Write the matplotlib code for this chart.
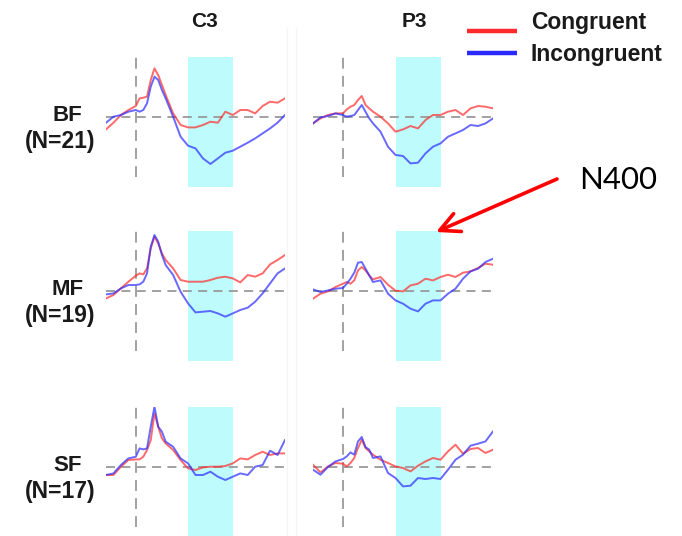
import matplotlib
matplotlib.use("Agg")
import matplotlib.pyplot as plt

# ---------------- data ----------------
time_ms = [-200, -150, -100, -50, 0, 25, 50, 75, 100, 125, 150, 175, 200, 250, 300,
           350, 400, 450, 500, 550, 600, 650, 700, 750, 800, 850, 900, 950, 1000]

electrodes = ["C3", "P3"]
groups = ["BF", "MF", "SF"]
group_n = ["(N=21)", "(N=19)", "(N=17)"]
conditions = ["Congruent", "Incongruent"]
n400_window = [350, 650]

c3_bf_congruent = [-1.27, -0.6, 0.17, 0.67, 1.07, 1.83, 1.9, 2.0, 3.67, 4.83, 4.17, 3.17, 2.17, 0.33, -0.83,
                   -1.07, -1.07, -0.83, -0.5, -0.6, 0.5, 0.17, 0.67, 0.67, 0.33, 1.07, 1.5, 1.4, 1.83]
c3_bf_incongruent = [-0.6, 0.0, 0.17, 0.5, 0.67, 0.5, 0.67, 1.33, 3.0, 4.0, 3.67, 2.67, 1.83, 0.0, -2.0,
                     -2.9, -3.17, -4.17, -4.73, -4.17, -3.6, -3.4, -3.0, -2.6, -2.17, -1.67, -1.17, -0.6, 0.17]
p3_bf_congruent = [-0.67, -0.17, 0.17, 0.33, 0.33, 0.73, 1.0, 1.17, 1.67, 2.07, 1.17, 0.83, 0.5, 0.0, -0.67,
                   -1.5, -1.27, -0.93, -1.17, -0.33, 0.17, 0.17, 0.5, 0.67, 0.17, 0.83, 1.07, 1.0, 0.83]
p3_bf_incongruent = [-0.67, -0.07, 0.07, 0.33, 0.17, 0.0, 0.07, 0.17, 0.67, 1.17, 0.5, -0.17, -0.67, -1.5, -3.0,
                     -3.83, -3.93, -4.67, -4.6, -3.67, -3.0, -2.67, -2.0, -1.67, -1.33, -0.83, -0.93, -0.67, -0.17]
c3_mf_congruent = [-0.77, -0.43, 0.23, 0.9, 1.5, 1.73, 1.63, 2.23, 4.23, 5.4, 4.73, 3.73, 3.07, 2.23, 1.07,
                   0.9, 0.9, 0.9, 1.07, 1.3, 1.4, 1.23, 0.83, 1.57, 1.4, 1.73, 2.63, 3.07, 3.57]
c3_mf_incongruent = [-0.37, -0.27, 0.23, 0.57, 0.57, 0.63, 0.9, 1.73, 4.4, 5.57, 4.9, 3.57, 2.57, 1.57, -0.1,
                     -1.27, -2.17, -2.1, -2.03, -2.27, -2.6, -2.27, -1.93, -1.7, -1.1, -0.27, 0.73, 1.73, 2.23]
p3_mf_congruent = [-0.8, -0.3, -0.07, 0.37, 0.7, 0.87, 0.7, 1.03, 2.03, 2.37, 2.03, 1.53, 1.13, 1.37, 0.6,
                   0.0, -0.07, 0.53, 0.7, 1.2, 1.03, 1.37, 1.6, 1.37, 1.8, 1.93, 2.27, 2.7, 2.6]
p3_mf_incongruent = [0.13, -0.13, 0.03, 0.2, 0.27, 0.7, 1.2, 1.8, 2.8, 2.87, 2.2, 1.53, 0.87, 1.03, -0.3,
                     -0.97, -1.3, -1.8, -2.07, -1.3, -0.97, -0.97, -0.3, 0.2, 1.2, 1.93, 2.2, 2.87, 3.2]
c3_sf_congruent = [-0.83, -0.83, 0.0, 0.67, 0.73, 0.73, 1.0, 1.67, 2.67, 5.33, 4.0, 2.83, 2.33, 1.67, 0.67,
                   -0.17, -0.33, -0.07, 0.0, 0.0, 0.07, 0.33, 0.83, 0.73, 1.17, 1.5, 1.17, 1.33, 1.33]
c3_sf_incongruent = [-0.83, -0.67, 0.17, 0.83, 1.0, 1.83, 1.73, 1.83, 4.0, 6.0, 4.0, 3.5, 2.5, 2.0, 0.83,
                     0.33, -0.83, -0.83, -0.5, -1.0, -1.33, -1.0, -0.67, -0.83, 0.0, 0.17, 1.6, 1.17, 2.67]
p3_sf_congruent = [0.2, -0.57, 0.03, 0.37, 0.3, 0.03, 0.37, 0.87, 1.87, 2.7, 1.87, 1.53, 1.2, 0.7, 0.37,
                   0.03, -0.13, -0.47, 0.1, 0.53, 0.87, 0.7, 1.53, 2.2, 1.3, 1.77, 1.87, 1.37, 1.7]
p3_sf_incongruent = [-0.3, -0.8, -0.03, 0.53, 0.77, 1.03, 1.43, 1.2, 2.53, 2.97, 1.97, 1.7, 0.87, 1.03, -0.63,
                     -1.13, -1.97, -1.9, -1.13, -1.23, -1.13, -1.23, -0.3, 0.7, 1.2, 2.1, 2.3, 2.53, 3.53]

waves = {
    ("BF", "C3"): (c3_bf_congruent, c3_bf_incongruent),
    ("BF", "P3"): (p3_bf_congruent, p3_bf_incongruent),
    ("MF", "C3"): (c3_mf_congruent, c3_mf_incongruent),
    ("MF", "P3"): (p3_mf_congruent, p3_mf_incongruent),
    ("SF", "C3"): (c3_sf_congruent, c3_sf_incongruent),
    ("SF", "P3"): (p3_sf_congruent, p3_sf_incongruent),
}

# ---------------- layout ----------------
W, H = 682, 536
fig = plt.figure(figsize=(W / 100, H / 100), dpi=100)
fig.patch.set_facecolor("white")

col_left = [106, 313]
col_width = [179, 180]
row_top = [56.7, 230.7, 406.7]
row_height = 130
YMIN, YMAX = -7, 6

RED = "#ff2a2a"
BLUE = "#2a2aff"
CYAN = "#bdfbfc"
GREY = "#9a9a9a"

label_font = ["Liberation Sans", "DejaVu Sans"]

def px_axes(left, top, width, height):
    return fig.add_axes([left / W, 1 - (top + height) / H, width / W, height / H])

# faint panel separators
for xsep in [287, 296]:
    fig.add_artist(plt.Line2D([xsep / W, xsep / W], [0, 1 - 28 / H],
                              color="#f5f5f5", lw=1.0))

for r, g in enumerate(groups):
    for c, e in enumerate(electrodes):
        ax = px_axes(col_left[c], row_top[r], col_width[c], row_height)
        ax.set_xlim(time_ms[0], time_ms[-1])
        ax.set_ylim(YMIN, YMAX)
        ax.axis("off")
        ax.axvspan(n400_window[0], n400_window[1], color=CYAN, lw=0, zorder=0)
        ax.plot([time_ms[0], time_ms[-1]], [0, 0], color=GREY, lw=1.3,
                dashes=(5, 3.5), zorder=1)
        ax.plot([0, 0], [-6, 6], color=GREY, lw=1.3, dashes=(6, 4), zorder=1)
        cong, incong = waves[(g, e)]
        ax.plot(time_ms, cong, color=RED, lw=1.4, alpha=0.7, zorder=2)
        ax.plot(time_ms, incong, color=BLUE, lw=1.4, alpha=0.7, zorder=3)

# overlay for texts and annotations in pixel coords
ov = fig.add_axes([0, 0, 1, 1])
ov.set_xlim(0, W)
ov.set_ylim(H, 0)
ov.axis("off")
ov.patch.set_alpha(0)

# column titles
for c, e in enumerate(electrodes):
    xc = [204, 414][c]
    ov.text(xc, 21.5, e, ha="center", va="center", fontsize=15,
            fontweight="bold", family=label_font, color="#1a1a1a")

# row labels
zero_y = [116.7, 290.7, 466.7]
for r, g in enumerate(groups):
    ov.text(67.5, zero_y[r] - 1.5, g, ha="center", va="center", fontsize=16,
            fontweight="bold", family=label_font, color="#1a1a1a")
    ov.text(60, zero_y[r] + 24.5, group_n[r], ha="center", va="center", fontsize=16.5,
            fontweight="bold", family=label_font, color="#1a1a1a")

# legend
leg_colors = [RED, BLUE]
leg_y = [31, 53]
leg_text_y = [23, 55]
for i, cond in enumerate(conditions):
    ov.plot([467, 517], [leg_y[i], leg_y[i]], color=leg_colors[i], lw=3.2,
            solid_capstyle="butt")
    ov.text(531, leg_text_y[i], cond, ha="left", va="center", fontsize=16.5,
            fontweight="bold", family=label_font, color="#1a1a1a")

# N400 annotation
ov.text(618, 180, "N400", ha="center", va="center", fontsize=22.5,
        family=["Lato", "DejaVu Sans"], color="black")
ov.annotate("", xy=(436, 232), xytext=(557, 179),
            arrowprops=dict(arrowstyle="->,head_length=0.7,head_width=0.35",
                            color="red", lw=2.6, mutation_scale=20,
                            shrinkA=0, shrinkB=0))

fig.savefig("out.png", dpi=100, facecolor="white")
